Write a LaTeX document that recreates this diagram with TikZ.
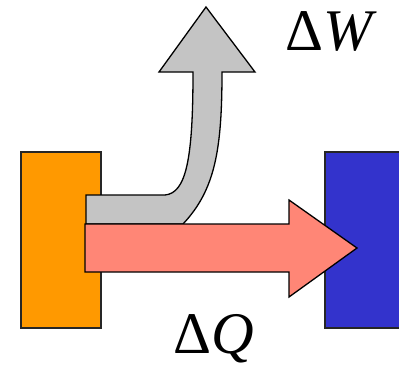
\documentclass[tikz,border=0pt]{standalone}
\usepackage{fontspec}
\setmainfont{Liberation Serif}
\usetikzlibrary{positioning, calc}

\definecolor{hotorange}{RGB}{255,153,0}
\definecolor{coldblue}{RGB}{51,51,204}
\definecolor{workgray}{RGB}{196,196,196}
\definecolor{heatred}{RGB}{255,134,118}

\begin{document}
\begin{tikzpicture}[
  x=1pt, y=-1pt,
  reservoir/.style={draw=black!85, line width=1.2pt},
  fatarrow/.style={draw=black, line width=1.3pt, line join=miter},
  lbl/.style={anchor=base west, inner sep=0pt, font=\fontsize{59}{60}\selectfont}
]
\useasboundingbox (0,0) rectangle (399,368);
% reservoirs
\draw[reservoir, fill=hotorange] (21,152) rectangle (101,328);
\draw[reservoir, fill=coldblue] (325,152) rectangle (410,328);
% work arrow
\draw[fatarrow, fill=workgray] (86,224) -- (86,195) -- (165,195)
  .. controls (186,193) and (193,160) .. (193,72)
  -- (159,72) -- (206,7) -- (255,72) -- (222,72)
  .. controls (222,150) and (215,190) .. (183,224) -- cycle;
% heat arrow
\draw[fatarrow, fill=heatred] (85,224) -- (289,224) -- (289,200) -- (357,248)
  -- (289,297) -- (289,272) -- (85,272) -- cycle;
% labels
\node[lbl] (dw) at (285,50) {Δ\textit{W}};
\node[lbl] (dq) at (173,353) {Δ\textit{Q}};
\end{tikzpicture}
\end{document}
